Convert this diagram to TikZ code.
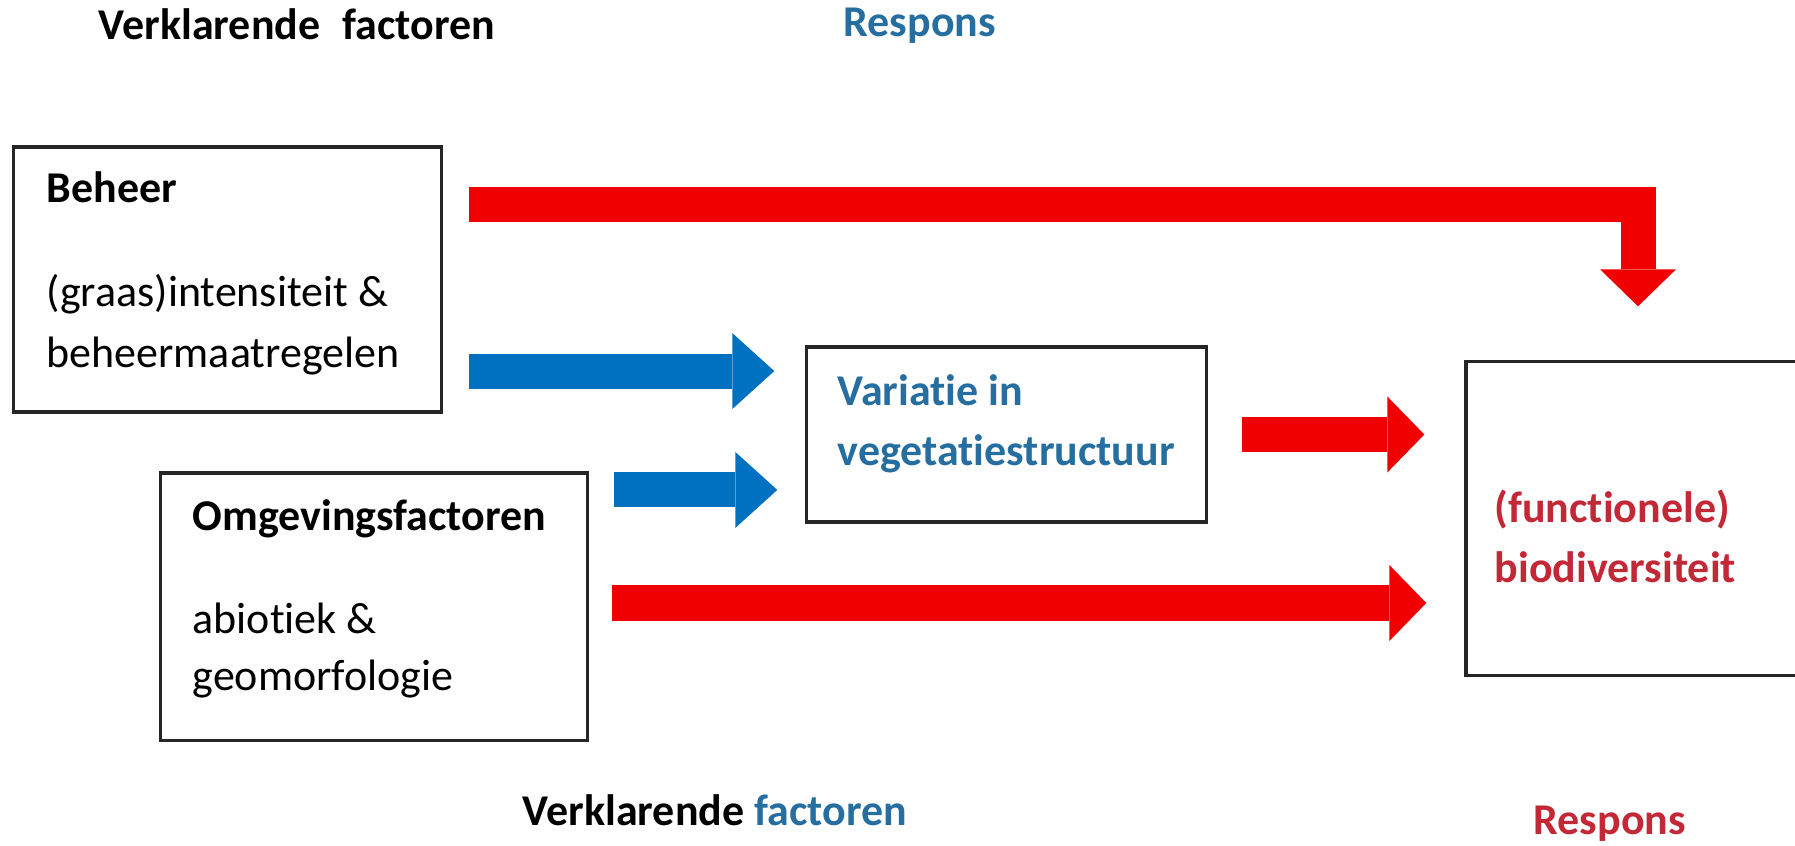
\documentclass[tikz,border=0pt]{standalone}
\usepackage{fontspec}
\setmainfont{Carlito}[Ligatures=NoCommon]
\usetikzlibrary{arrows.meta}
\definecolor{pijlrood}{RGB}{240,0,0}
\definecolor{pijlblauw}{RGB}{0,112,192}
\definecolor{tekstblauw}{RGB}{38,110,160}
\definecolor{tekstrood}{RGB}{195,40,55}
\begin{document}
\begin{tikzpicture}[x=0.01cm,y=-0.01cm,
  every node/.style={font=\fontsize{12.5}{15}\selectfont},
  box/.style={draw=black!85,line width=0.9pt,inner sep=0pt},
  lbl/.style={anchor=base west,inner sep=0pt},
  redarrow/.style={draw=pijlrood,line width=0.35cm,line join=miter,-{Triangle[length=0.37cm,width=0.76cm,line width=0pt]}},
  bluearrow/.style={draw=pijlblauw,line width=0.35cm,-{Triangle[length=0.42cm,width=0.76cm,line width=0pt]}}]
\useasboundingbox (0,0) rectangle (1795,846);
\node[box,minimum width=4.27cm,minimum height=2.65cm] (beheer) at (227.5,279.5) {};
\node[box,minimum width=4.26cm,minimum height=2.67cm] (omgeving) at (374,606.5) {};
\node[box,minimum width=3.99cm,minimum height=1.75cm] (variatie) at (1006.5,434.5) {};
\node[box,minimum width=3.44cm,minimum height=3.13cm] (bio) at (1638,518.5) {};
\node[lbl] (kop1) at (98,40) {\bfseries Verklarende\hspace{0.12cm} factoren};
\node[lbl,text=tekstblauw] (kop2) at (843,37) {\bfseries Respons};
\node[lbl] (t1) at (46,203) {\bfseries Beheer};
\node[lbl] (t2) at (46,307) {(graas)intensiteit \&};
\node[lbl] (t3) at (46,367) {beheermaatregelen};
\node[lbl] (t4) at (192,530) {\bfseries Omgevingsfactoren};
\node[lbl] (t5) at (192,633) {abiotiek \&};
\node[lbl] (t6) at (192,690) {geomorfologie};
\node[lbl,text=tekstblauw] (t7) at (837,405) {\bfseries Variatie in};
\node[lbl,text=tekstblauw] (t8) at (837,465) {\bfseries vegetatiestructuur};
\node[lbl,text=tekstrood] (t9) at (1494,522) {\bfseries (functionele)};
\node[lbl,text=tekstrood] (t10) at (1494,582) {\bfseries biodiversiteit};
\node[lbl] (voet1) at (522,825) {\bfseries Verklarende \textcolor{tekstblauw}{factoren}};
\node[lbl,text=tekstrood] (voet2) at (1533,834) {\bfseries Respons};
\draw[redarrow] ([xshift=0.26cm,yshift=0.745cm]beheer.east) -| ([yshift=0.54cm]bio.north);
\draw[bluearrow] ([xshift=0.26cm,yshift=-0.915cm]beheer.east) coordinate (b1) -- ([xshift=-0.31cm]b1 -| variatie.west);
\draw[bluearrow] ([xshift=0.25cm,yshift=1.165cm]omgeving.east) coordinate (b2) -- ([xshift=-0.28cm]b2 -| variatie.west);
\draw[redarrow] ([xshift=0.34cm]variatie.east) coordinate (r1) -- ([xshift=-0.4cm]r1 -| bio.west);
\draw[redarrow] ([xshift=0.23cm,yshift=0.035cm]omgeving.east) coordinate (r2) -- ([xshift=-0.38cm]r2 -| bio.west);
\end{tikzpicture}
\end{document}
